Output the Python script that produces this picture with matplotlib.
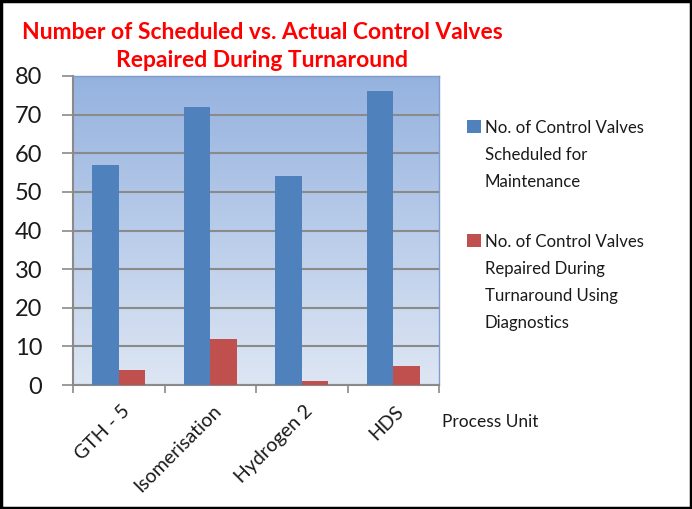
import matplotlib
matplotlib.use("Agg")
import matplotlib.pyplot as plt
import numpy as np
from matplotlib.patches import Rectangle

categories = ["GTH - 5", "Isomerisation", "Hydrogen 2", "HDS"]
scheduled = [57, 72, 54, 76]
repaired = [4, 12, 1, 5]
series_names = ["No. of Control Valves\nScheduled for\nMaintenance",
                "No. of Control Valves\nRepaired During\nTurnaround Using\nDiagnostics"]
yticks = [0, 10, 20, 30, 40, 50, 60, 70, 80]
title_lines = ["Number of Scheduled vs. Actual Control Valves", "Repaired During Turnaround"]
xlabel = "Process Unit"

BLUE = "#4F81BD"
RED = "#C0504D"
FONT = "Lato"

W, H = 692, 509
fig = plt.figure(figsize=(W / 100, H / 100), dpi=100)

def fx(px):
    return px / W

def fy(py):
    return 1 - py / H

left, right, top, bottom = 73, 439, 76, 385
ax = fig.add_axes([fx(left), fy(bottom), fx(right - left), (bottom - top) / H])

# gradient background
grad = np.linspace(0, 1, 256).reshape(-1, 1)
top_c = np.array([149, 178, 223]) / 255
bot_c = np.array([221, 230, 243]) / 255
img = top_c[None, None, :] * (1 - grad[:, :, None]) + bot_c[None, None, :] * grad[:, :, None]
ax.imshow(img, extent=[-0.5, 3.5, 0, 80], aspect="auto", zorder=0, origin="upper")

x = np.arange(len(categories))
w = 0.29
ax.bar(x - w / 2, scheduled, width=w, color=BLUE, zorder=3)
ax.bar(x + w / 2, repaired, width=w, color=RED, zorder=3)

ax.set_xlim(-0.5, 3.5)
ax.set_ylim(0, 80)
ax.set_yticks(yticks)
ax.set_yticklabels([str(v) for v in yticks], fontsize=17, family=FONT, color="#1a1a1a")
ax.yaxis.grid(True, color="#8a8a8a", linewidth=1.5, zorder=1)
ax.set_axisbelow(True)
ax.tick_params(axis="y", length=8, width=1.2, color="#8a8a8a", pad=14)

ax.set_xticks(np.arange(-0.5, 4, 1))
ax.set_xticklabels([])
ax.tick_params(axis="x", length=6, width=1.2, color="#8a8a8a")
for i, c in enumerate(categories):
    ax.text(i + 0.02, -4.5, c, rotation=45, ha="right", va="top", rotation_mode="anchor",
            fontsize=14, family=FONT, color="#1a1a1a")

for s in ["left", "bottom"]:
    ax.spines[s].set_color("#8a8a8a")
    ax.spines[s].set_linewidth(1.5)
for s in ["top", "right"]:
    ax.spines[s].set_color("#7f9ccc")
    ax.spines[s].set_linewidth(1.0)

for line, yb in zip(title_lines, [39, 67]):
    fig.text(fx(262), fy(yb), line, ha="center", va="baseline", fontsize=16.5, weight="bold",
             color="#FF0000", family=FONT)

fig.text(fx(442), fy(427), xlabel, ha="left", va="baseline", fontsize=12.5, family=FONT, color="#1a1a1a")

# legend
colors = [BLUE, RED]
first_baselines = [132, 246]
for name, col, yb in zip(series_names, colors, first_baselines):
    fig.patches.append(Rectangle((fx(467), fy(yb + 1)), fx(14), 13 / H, transform=fig.transFigure,
                                 facecolor=col, edgecolor="none"))
    fig.text(fx(485), fy(yb - 12), name, ha="left", va="top", fontsize=12.1, family=FONT,
             color="#1a1a1a", linespacing=1.85)

fig.patches.append(Rectangle((0.0015, 0.002), 0.997, 0.996, transform=fig.transFigure,
                             facecolor="none", edgecolor="black", linewidth=2.5))

fig.savefig("out.png", dpi=100)
